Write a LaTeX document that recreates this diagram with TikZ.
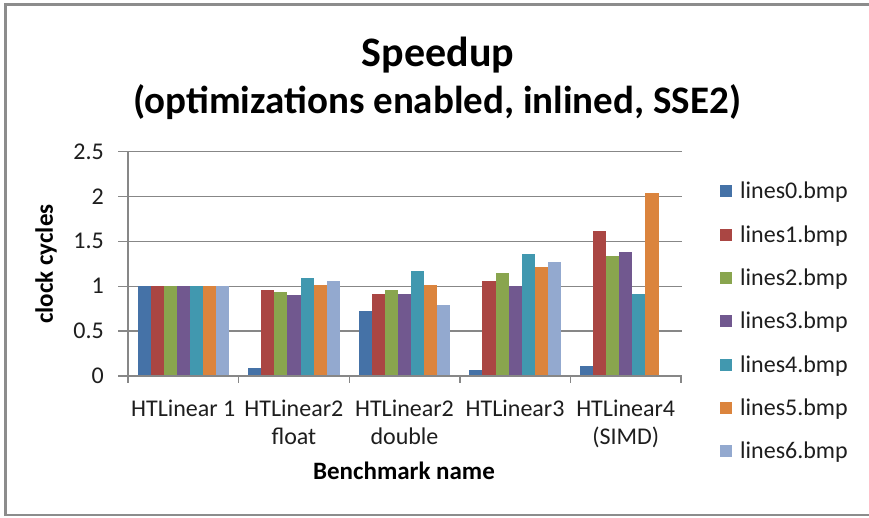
\documentclass[tikz,border=0pt]{standalone}
\usepackage{fontspec}
\setmainfont{Carlito}
\definecolor{ser0}{HTML}{4572A7}
\definecolor{ser1}{HTML}{AA4643}
\definecolor{ser2}{HTML}{89A54E}
\definecolor{ser3}{HTML}{71588F}
\definecolor{ser4}{HTML}{4198AF}
\definecolor{ser5}{HTML}{DB843D}
\definecolor{ser6}{HTML}{93A9CF}
\definecolor{gridgray}{HTML}{878787}
\definecolor{framegray}{HTML}{8C8C8C}
\definecolor{labelgray}{HTML}{1E1E1E}
\tikzset{
  gridline/.style={draw=gridgray, line width=1.4pt},
  axisline/.style={draw=gridgray, line width=1.4pt},
  frameline/.style={draw=framegray, line width=2.2pt},
  ticklabel/.style={inner sep=0pt, text=labelgray, font=\fontsize{24}{28}\selectfont},
  axistitle/.style={inner sep=0pt, text=black, font=\bfseries\fontsize{25}{28}\selectfont},
  legendtext/.style={inner sep=0pt, text=labelgray, font=\fontsize{24}{28}\selectfont, anchor=base west},
}
\begin{document}
\begin{tikzpicture}[x=1pt,y=-1pt]
\clip (0,0) rectangle (869,518);
\fill[white] (0,0) rectangle (869,518);
% chart frame (open to the right)
\draw[frameline] (880,4.5) -- (5.5,4.5) -- (5.5,515) -- (880,515);

% titles
\node[inner sep=0pt, anchor=base, font=\bfseries\fontsize{42}{48}\selectfont] (title) at (438,67) {Speedup};
\node[inner sep=0pt, anchor=base, font=\bfseries\fontsize{39}{44}\selectfont] (subtitle) at (437,114) {(optimizations enabled, inlined, SSE2)};

% plot geometry: zero line at y=376, 89.7 units per 1.0, categories 110.6 wide from x=128
\def\yzero{376}
\def\yscale{89.7}
\def\catw{110.6}
\def\xzero{128}
\def\barw{13.1}
\def\gap{9.5}

% horizontal gridlines with left ticks
\foreach \v in {0.5,1,1.5,2,2.5}
  \draw[gridline] (118,{\yzero-\v*\yscale}) -- (682,{\yzero-\v*\yscale});

% bars
\foreach \c/\vals in {0/{1,1,1,1,1,1,1},
                      1/{0.09,0.96,0.94,0.90,1.09,1.02,1.06},
                      2/{0.73,0.91,0.96,0.91,1.17,1.02,0.79},
                      3/{0.07,1.06,1.15,1.00,1.36,1.21,1.27},
                      4/{0.11,1.62,1.34,1.38,0.91,2.04,0}}{
  \foreach \v [count=\i from 0] in \vals {
    \fill[ser\i] ({\xzero+\c*\catw+\gap+\i*\barw},\yzero) rectangle
                 ({\xzero+\c*\catw+\gap+(\i+1)*\barw},{\yzero-\v*\yscale});
  }
}

% axes
\draw[axisline] (\xzero,151.7) -- (\xzero,383);
\draw[axisline] (118,\yzero) -- (682,\yzero);
\foreach \k in {1,...,5}
  \draw[axisline] ({\xzero+\k*\catw},\yzero) -- ({\xzero+\k*\catw},383);

% value labels
\foreach \v/\t [count=\n] in {0/0,0.5/0.5,1/1,1.5/1.5,2/2,2.5/2.5}
  \node[ticklabel, anchor=base east] (ylab\n) at (104,{\yzero-\v*\yscale+7.5}) {\t};

% category labels (a two-line node sits on the baseline of its last line)
\node[ticklabel, anchor=base, align=center] (cat1) at ({\xzero+0.5*\catw},416) {HTLinear 1};
\node[ticklabel, anchor=base, align=center] (cat2) at ({\xzero+1.5*\catw},444) {HTLinear2\\float};
\node[ticklabel, anchor=base, align=center] (cat3) at ({\xzero+2.5*\catw},444) {HTLinear2\\double};
\node[ticklabel, anchor=base, align=center] (cat4) at ({\xzero+3.5*\catw},416) {HTLinear3};
\node[ticklabel, anchor=base, align=center] (cat5) at ({\xzero+4.5*\catw},444) {HTLinear4\\(SIMD)};

% axis titles
\node[axistitle, anchor=base] (xtitle) at (404,479) {Benchmark name};
\node[axistitle, rotate=90, anchor=center] (ytitle) at (46,264) {clock cycles};

% legend
\foreach \i in {0,...,6}{
  \fill[ser\i] (720,{191.5+\i*43.3-6}) rectangle (732,{191.5+\i*43.3+6});
  \node[legendtext] (leg\i) at (740,{191.5+\i*43.3+7.5}) {lines\i.bmp};
}
\end{tikzpicture}
\end{document}
